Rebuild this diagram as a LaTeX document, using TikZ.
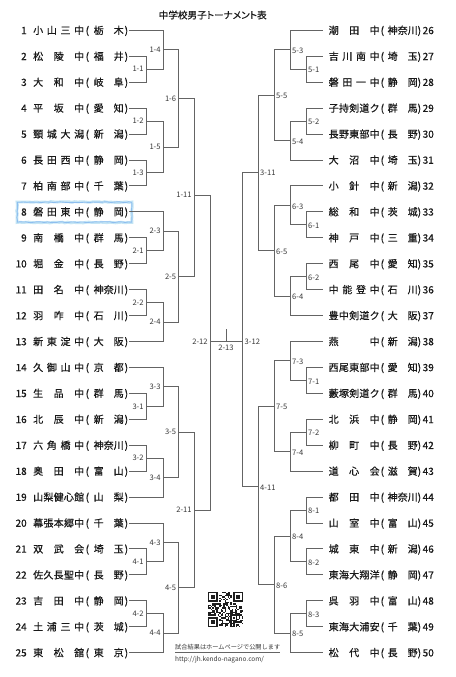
\documentclass[tikz,border=0pt]{standalone}
\usepackage{fontspec}
\newfontfamily\jp{Noto Sans CJK JP}
\newfontfamily\jpm[FakeBold=0.5]{Noto Sans CJK JP}
\newfontfamily\jpp[RawFeature=+palt,FakeBold=0.5]{Noto Sans CJK JP}
\usetikzlibrary{decorations.pathmorphing}
\definecolor{lnc}{RGB}{100,100,100}
\definecolor{txt}{RGB}{25,25,25}
\definecolor{labc}{RGB}{55,55,55}
\definecolor{hl}{RGB}{140,205,235}
\definecolor{qrc}{RGB}{30,30,30}
\def\sprA#1{\ifx#1\relax\else#1\expandafter\sprB\fi}
\def\sprB#1{\ifx#1\relax\else\hfill#1\expandafter\sprB\fi}
\newcommand\spreadtxt[1]{\edef\sptmp{#1}\expandafter\sprA\sptmp\relax}
\newcommand\lteam[3]{\makebox[14pt][r]{#1}\hspace{6.5pt}\makebox[51pt][s]{\spreadtxt{#2}}\makebox[9.5pt][l]{\hspace{1.5pt}(}\makebox[30pt][s]{\spreadtxt{#3}}\makebox[5pt][l]{\hspace{1pt})}}
\newcommand\rteam[3]{\hspace{6pt}\makebox[51pt][s]{\spreadtxt{#2}}\makebox[8pt][l]{\hspace{1pt}(}\makebox[30pt][s]{\spreadtxt{#3}}\makebox[5pt][l]{)}\makebox[16pt][l]{#1}}
\begin{document}
\begin{tikzpicture}[x=1pt,y=-1pt,
  tm/.style={inner sep=0pt, font=\jpm\fontsize{10}{12}\selectfont, text height=8.8pt, text depth=1.2pt, text=txt},
  br/.style={draw=lnc, line width=0.85pt},
  lab/.style={inner sep=0pt, font=\jp\fontsize{7.6}{9}\selectfont, text=labc},
  hlbox/.style={draw=hl, decorate, decoration={random steps, segment length=3pt, amplitude=0.45pt}},
]
\fill[white] (0,0) rectangle (455,677);
\useasboundingbox (0,0) rectangle (455,677);

% highlight of team 8
\draw[hlbox, line width=2.8pt, opacity=0.5] (17,202) rectangle (132,222.5);
\draw[hlbox, draw=hl!85!blue, line width=0.9pt, opacity=0.7] (17.3,202.3) rectangle (131.7,222.2);

% title
\node[font=\jpp\fontsize{9.6}{11}\selectfont, text=txt, inner sep=0pt] (title) at (212.7,15) {中学校男子トーナメント表};

% teams left
\foreach \n/\a/\b [count=\k from 0] in {1/小山三中/栃木, 2/松陵中/福井, 3/大和中/岐阜, 4/平坂中/愛知, 5/頸城大潟/新潟, 6/長田西中/静岡, 7/柏南部中/千葉, 8/磐田東中/静岡, 9/南橋中/群馬, 10/堀金中/長野, 11/田名中/神奈川, 12/羽咋中/石川, 13/新東淀中/大阪, 14/久御山中/京都, 15/生品中/群馬, 16/北辰中/新潟, 17/六角橋中/神奈川, 18/奥田中/富山, 19/山梨健心館/山梨, 20/幕張本郷中/千葉, 21/双武会/埼玉, 22/佐久長聖中/長野, 23/吉田中/静岡, 24/土浦三中/茨城, 25/東松舘/東京}
  \node[tm, anchor=west] (t\n) at (12.5,{30.3+\k*25.93}) {\lteam{\n}{\a}{\b}};

% teams right
\foreach \n/\a/\b [count=\k from 0] in {26/潮田中/神奈川, 27/吉川南中/埼玉, 28/磐田一中/静岡, 29/子持剣道ク/群馬, 30/長野東部中/長野, 31/大沼中/埼玉, 32/小針中/新潟, 33/総和中/茨城, 34/神戸中/三重, 35/西尾中/愛知, 36/中能登中/石川, 37/豊中剣道ク/大阪, 38/燕中/新潟, 39/西尾東部中/愛知, 40/藪塚剣道ク/群馬, 41/北浜中/静岡, 42/柳町中/長野, 43/道心会/滋賀, 44/都田中/神奈川, 45/山室中/富山, 46/城東中/新潟, 47/東海大翔洋/静岡, 48/呉羽中/富山, 49/東海大浦安/千葉, 50/松代中/長野}
  \node[tm, anchor=west] (t\n) at (322.5,{30.3+\k*25.93}) {\rteam{\n}{\a}{\b}};

% match points left
\coordinate (m1-1) at (146,69.2);
\coordinate (m1-4) at (163,49.75);
\coordinate (m1-2) at (146,121.06);
\coordinate (m1-3) at (146,172.92);
\coordinate (m1-5) at (163,146.99);
\coordinate (m1-6) at (178.5,98.37);
\coordinate (m2-1) at (146,250.7);
\coordinate (m2-3) at (163,231.26);
\coordinate (m2-2) at (146,302.57);
\coordinate (m2-4) at (163,322.0);
\coordinate (m2-5) at (178.5,276.63);
\coordinate (m1-11) at (194,195);
\coordinate (m3-1) at (146,406.29);
\coordinate (m3-3) at (163,386.84);
\coordinate (m3-2) at (146,458.15);
\coordinate (m3-4) at (163,477.6);
\coordinate (m3-5) at (178.5,432.22);
\coordinate (m4-1) at (146,561.87);
\coordinate (m4-3) at (163,542.42);
\coordinate (m4-2) at (146,613.73);
\coordinate (m4-4) at (163,633.18);
\coordinate (m4-5) at (178.5,587.8);
\coordinate (m2-11) at (194,510);
\coordinate (m2-12) at (210,341.5);
% match points right
\coordinate (m5-1) at (306,69.2);
\coordinate (m5-3) at (290,49.75);
\coordinate (m5-2) at (306,121.06);
\coordinate (m5-4) at (290,140.5);
\coordinate (m5-5) at (274,95.13);
\coordinate (m6-1) at (306,224.78);
\coordinate (m6-3) at (290,205.33);
\coordinate (m6-2) at (306,276.64);
\coordinate (m6-4) at (290,296.08);
\coordinate (m6-5) at (274,250.7);
\coordinate (m3-11) at (258,172);
\coordinate (m7-1) at (306,380.36);
\coordinate (m7-3) at (290,360.91);
\coordinate (m7-2) at (306,432.22);
\coordinate (m7-4) at (290,451.66);
\coordinate (m7-5) at (274,406.29);
\coordinate (m8-1) at (306,510.0);
\coordinate (m8-2) at (306,561.87);
\coordinate (m8-4) at (290,535.93);
\coordinate (m8-3) at (306,613.73);
\coordinate (m8-5) at (290,633.18);
\coordinate (m8-6) at (274,584.55);
\coordinate (m4-11) at (258,486.5);
\coordinate (m3-12) at (242,341.5);
\coordinate (c13) at (226,341.5);
\coordinate (c13top) at (226,329);

% bracket lines
\foreach \a/\m in {t2.east/m1-1, t3.east/m1-1, t1.east/m1-4, m1-1/m1-4, t4.east/m1-2, t5.east/m1-2, t6.east/m1-3, t7.east/m1-3, m1-2/m1-5, m1-3/m1-5, m1-4/m1-6, m1-5/m1-6, m1-6/m1-11,
  t9.east/m2-1, t10.east/m2-1, t8.east/m2-3, m2-1/m2-3, t11.east/m2-2, t12.east/m2-2, m2-2/m2-4, t13.east/m2-4, m2-3/m2-5, m2-4/m2-5, m2-5/m1-11,
  t15.east/m3-1, t16.east/m3-1, t14.east/m3-3, m3-1/m3-3, t17.east/m3-2, t18.east/m3-2, m3-2/m3-4, t19.east/m3-4, m3-3/m3-5, m3-4/m3-5, m3-5/m2-11,
  t21.east/m4-1, t22.east/m4-1, t20.east/m4-3, m4-1/m4-3, t23.east/m4-2, t24.east/m4-2, m4-2/m4-4, t25.east/m4-4, m4-3/m4-5, m4-4/m4-5, m4-5/m2-11,
  m1-11/m2-12, m2-11/m2-12,
  t27.west/m5-1, t28.west/m5-1, t26.west/m5-3, m5-1/m5-3, t29.west/m5-2, t30.west/m5-2, m5-2/m5-4, t31.west/m5-4, m5-3/m5-5, m5-4/m5-5, m5-5/m3-11,
  t33.west/m6-1, t34.west/m6-1, t32.west/m6-3, m6-1/m6-3, t35.west/m6-2, t36.west/m6-2, m6-2/m6-4, t37.west/m6-4, m6-3/m6-5, m6-4/m6-5, m6-5/m3-11,
  t39.west/m7-1, t40.west/m7-1, t38.west/m7-3, m7-1/m7-3, t41.west/m7-2, t42.west/m7-2, m7-2/m7-4, t43.west/m7-4, m7-3/m7-5, m7-4/m7-5, m7-5/m4-11,
  t44.west/m8-1, t45.west/m8-1, t46.west/m8-2, t47.west/m8-2, m8-1/m8-4, m8-2/m8-4, t48.west/m8-3, t49.west/m8-3, m8-3/m8-5, t50.west/m8-5, m8-4/m8-6, m8-5/m8-6, m8-6/m4-11,
  m3-11/m3-12, m4-11/m3-12}
  \draw[br] (\a) -| (\m);
\draw[br] (m2-12) -- (m3-12);
\draw[br] (c13) -- (c13top);

% match labels
\foreach \m in {1-1,1-4,1-2,1-3,1-5,1-6,1-11,2-1,2-3,2-2,2-4,2-5,3-1,3-3,3-2,3-4,3-5,2-11,4-1,4-3,4-2,4-4,4-5,2-12}
  \node[lab, anchor=east] (l\m) at ([xshift=-2.2pt]m\m) {\m};
\foreach \m in {5-1,5-3,5-2,5-4,5-5,3-11,6-1,6-3,6-2,6-4,6-5,7-1,7-3,7-2,7-4,7-5,4-11,8-1,8-2,8-4,8-3,8-5,8-6}
  \node[lab, anchor=west] (l\m) at ([xshift=2pt,yshift=-1pt]m\m) {\m};
\node[lab, anchor=west] (l3-12) at ([xshift=2.5pt]m3-12) {3-12};
\node[lab, anchor=north] (l2-13) at ([yshift=-3.2pt]c13) {2-13};

% QR code
\begin{scope}[shift={(208,592)}]
  \pgfmathsetseed{4711}
  \foreach \i in {0,...,24}{
    \foreach \j in {0,...,24}{
      \pgfmathtruncatemacro\inF{or(or(and(\i<8,\j<8),and(\i>16,\j<8)),or(and(\i<8,\j>16),and(and(\i>15,\i<21),and(\j>15,\j<21))))}
      \pgfmathrandominteger{\r}{0}{1}
      \ifnum\inF=0 \ifnum\r=1 \fill[qrc] (\i*1.4,\j*1.4) rectangle ++(1.45,1.45); \fi\fi
    }
  }
  \foreach \px/\py in {0/0, 25.2/0, 0/25.2}{
    \fill[qrc] (\px,\py) rectangle ++(9.8,9.8);
    \fill[white] (\px+1.4,\py+1.4) rectangle ++(7,7);
    \fill[qrc] (\px+2.8,\py+2.8) rectangle ++(4.2,4.2);
  }
  \fill[qrc] (22.4,22.4) rectangle ++(7,7);
  \fill[white] (23.8,23.8) rectangle ++(4.2,4.2);
  \fill[qrc] (25.2,25.2) rectangle ++(1.4,1.4);
\end{scope}

% footer
\node[anchor=west, inner sep=0pt, font=\jp\fontsize{6.2}{7}\selectfont, text=labc] (note) at (175,647) {試合結果はホームページで公開します};
\draw[lnc, line width=0.5pt] ([yshift=-1.8pt]note.south west) -- ([yshift=-1.8pt]note.south east);
\node[anchor=west, inner sep=0pt, font=\jp\fontsize{6.5}{7}\selectfont, text=labc] (url) at (175,659.5) {http://jh.kendo-nagano.com/};
\end{tikzpicture}
\end{document}
